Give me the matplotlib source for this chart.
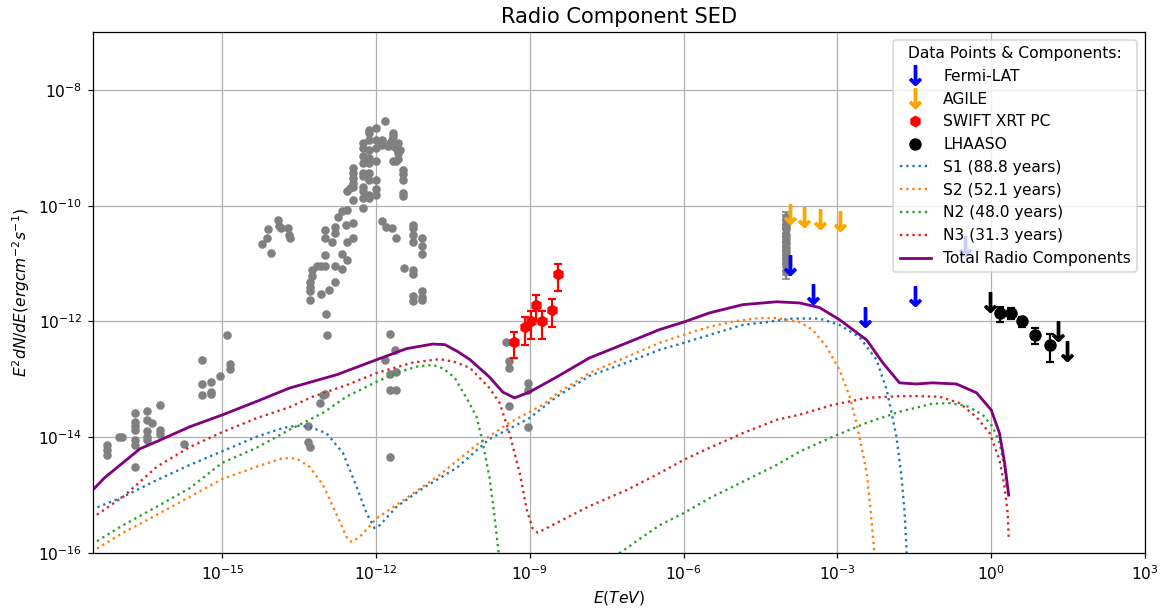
import numpy as np
import matplotlib
matplotlib.use("Agg")
import matplotlib.pyplot as plt

# -------------------------------
# Data
# -------------------------------

# model curves (log10 E [TeV], log10 E^2 dN/dE)
s1_logE = [-17.55, -16.94, -16.28, -15.64, -15.00, -14.33, -13.82, -13.55, -13.30, -12.97,
           -12.65, -12.38, -12.19, -12.03, -11.93, -11.60, -11.09, -10.43, -9.79, -9.01,
           -8.48, -7.84, -7.11, -6.47, -6.00, -5.49, -4.85, -4.38, -3.88, -3.35,
           -2.96, -2.57, -2.24, -2.04, -1.85, -1.75, -1.69, -1.65, -1.62]
s1_logF = [-15.25, -15.03, -14.74, -14.48, -14.24, -13.99, -13.84, -13.80, -13.82, -13.93,
           -14.27, -14.86, -15.31, -15.57, -15.52, -15.20, -14.88, -14.53, -14.03, -13.67,
           -13.30, -12.94, -12.71, -12.49, -12.37, -12.23, -12.06, -12.01, -11.95, -11.95,
           -12.06, -12.27, -12.66, -13.18, -13.99, -14.69, -15.31, -16.00, -16.50]

s2_logE = [-17.55, -16.94, -16.28, -15.64, -15.00, -14.33, -13.82, -13.55, -13.30, -13.04,
           -12.77, -12.58, -12.48, -12.32, -11.99, -11.41, -10.76, -10.04, -9.40, -8.75,
           -8.48, -7.84, -7.11, -6.47, -6.00, -5.49, -4.97, -4.52, -4.19, -3.74,
           -3.49, -3.21, -2.96, -2.76, -2.63, -2.53, -2.43, -2.36, -2.28, -2.25]
s2_logF = [-15.98, -15.65, -15.34, -15.03, -14.72, -14.51, -14.36, -14.37, -14.51, -14.82,
           -15.34, -15.72, -15.81, -15.72, -15.40, -15.05, -14.65, -14.13, -13.75, -13.44,
           -13.25, -12.89, -12.61, -12.37, -12.23, -12.09, -11.99, -11.94, -11.94, -12.01,
           -12.14, -12.44, -12.84, -13.30, -13.75, -14.17, -14.62, -15.20, -16.00, -16.50]

n2_logE = [-17.55, -16.94, -16.28, -15.64, -15.00, -14.33, -13.69, -13.04, -12.58, -11.99,
           -11.54, -11.21, -10.90, -10.70, -10.47, -10.22, -10.04, -9.92, -9.79, -9.69,
           -9.61, -9.55, np.nan, -7.45, -7.25, -6.80, -6.47, -6.00, -5.49, -4.85,
           -4.19, -3.74, -3.09, -2.43, -1.79, -1.15, -0.81, -0.48, -0.17, 0.03,
           0.16, 0.26, 0.30]
n2_logF = [-15.85, -15.52, -15.20, -14.88, -14.44, -14.18, -13.87, -13.58, -13.30, -13.04,
           -12.87, -12.78, -12.75, -12.81, -12.97, -13.35, -13.65, -14.10, -14.69, -15.38,
           -16.00, -16.50, np.nan, -16.40, -16.00, -15.72, -15.52, -15.31, -15.05, -14.77,
           -14.48, -14.25, -13.99, -13.75, -13.56, -13.42, -13.41, -13.46, -13.61, -13.82,
           -14.10, -14.51, -14.86]

n3_logE = [-17.55, -16.94, -16.28, -15.64, -15.00, -14.33, -13.69, -13.24, -12.58, -11.99,
           -11.29, -10.76, -10.47, -10.17, -9.79, -9.59, -9.40, -9.20, -9.06, -8.95, -8.85,
           -8.48, -7.84, -7.11, -6.47, -6.00, -5.49, -4.85, -4.19, -3.74, -3.09,
           -2.43, -1.79, -1.46, -1.01, -0.62, -0.29, -0.03, 0.16, 0.26, 0.32, 0.34]
n3_logF = [-15.40, -15.03, -14.51, -14.17, -13.91, -13.67, -13.48, -13.30, -13.10, -12.89,
           -12.71, -12.65, -12.70, -12.80, -13.15, -13.41, -13.93, -14.62, -15.26, -15.57, -15.65,
           -15.48, -15.19, -14.91, -14.62, -14.39, -14.18, -13.93, -13.70, -13.61, -13.44,
           -13.32, -13.29, -13.29, -13.30, -13.41, -13.65, -13.93, -14.39, -14.86, -15.31, -15.72]

tot_logE = [-17.55, -17.30, -16.61, -16.22, -15.64, -14.99, -14.33, -13.69, -12.77, -11.99,
            -11.41, -10.90, -10.66, -10.41, -10.17, -9.79, -9.53, -9.30, -9.01, -8.48,
            -7.84, -7.11, -6.47, -6.00, -5.49, -4.85, -4.19, -3.74, -3.35, -2.96,
            -2.43, -2.12, -1.79, -1.46, -1.15, -0.68, -0.29, 0.00, 0.16, 0.26, 0.34]
tot_logF = [-14.93, -14.70, -14.20, -14.05, -13.82, -13.61, -13.38, -13.15, -12.92, -12.66,
            -12.47, -12.39, -12.40, -12.52, -12.66, -12.96, -13.22, -13.32, -13.22, -12.96,
            -12.63, -12.37, -12.14, -12.01, -11.85, -11.71, -11.66, -11.68, -11.76, -11.97,
            -12.32, -12.71, -13.06, -13.08, -13.06, -13.08, -13.23, -13.53, -13.93, -14.44, -15.00]

# archival points (grey, log10 values)
gray_logE = [
    -17.25, -17.25, -17.25, -17.02, -16.95,
    -16.71, -16.71, -16.71, -16.71, -16.71, -16.71, -16.71,
    -16.47, -16.47, -16.47, -16.47, -16.47, -16.37, -16.21, -16.22, -16.22, -15.75,
    -15.40, -15.40, -15.39, -15.22, -15.22, -15.22, -15.05, -14.92, -14.85, -14.85,
    -14.22, -14.14, -14.12, -14.06, -13.92, -13.90, -13.85, -13.73, -13.70, -13.69,
    -13.29, -13.29, -13.29, -13.29, -13.26, -13.26, -13.16, -13.08, -13.07,
    -12.99, -12.99, -12.99, -12.99, -12.92, -12.87, -12.81, -12.80, -12.80, -12.80,
    -12.67, -12.67, -12.56, -12.56, -12.58, -12.46, -12.46, -12.75, -12.66, -12.57, -12.57, -12.52,
    -12.45, -12.45, -12.45, -12.45, -12.45, -12.45,
    -12.26, -12.26, -12.26, -12.26, -12.26, -12.26, -12.26, -12.26, -12.26, -12.26,
    -12.14, -12.14, -12.14, -12.14, -12.14, -12.14, -12.14, -12.14, -12.14, -12.14,
    -12.01, -12.01, -12.01, -12.01, -12.01, -12.01, -12.01,
    -11.88, -11.88, -11.88, -11.82, -11.77, -11.74, -11.70, -11.70,
    -11.67, -11.67, -11.67, -11.67, -11.61, -11.61, -11.61, -11.58, -11.58, -11.58, -11.54,
    -11.48, -11.48, -11.48, -11.48, -11.48, -11.80, -11.46,
    -11.28, -11.28, -11.28, -11.28, -11.28, -11.28, -11.28, -11.28,
    -11.10, -11.10, -11.10, -11.10, -11.10, -11.10,
    -12.97, -12.96, -11.74, -11.64, -11.82, -11.61, -11.74, -11.74, -11.61,
    -13.04, -12.99, -13.10, -13.33, -13.33, -13.30, -11.74,
    -9.46, -9.40, -9.40, -9.40, -9.04, -9.04, -9.04,
]
gray_logF = [
    -14.13, -14.22, -14.31, -14.00, -14.00,
    -13.58, -13.73, -13.80, -13.87, -14.05, -14.13, -14.51,
    -13.54, -13.70, -13.90, -14.00, -14.05, -13.75, -13.45, -13.87, -13.94, -14.12,
    -13.08, -13.27, -12.67, -13.05, -13.21, -13.25, -12.95, -12.24, -12.74, -12.82,
    -10.66, -10.55, -10.40, -10.82, -10.24, -10.35, -10.39, -10.38, -10.50, -10.55,
    -11.63, -11.48, -11.40, -11.31, -11.22, -11.11, -11.04, -11.04, -11.52,
    -10.42, -10.56, -10.86, -11.04, -11.46, -10.62, -11.31, -10.36, -10.47, -11.05,
    -10.83, -11.09, -10.93, -10.62, -10.33, -10.30, -10.55, -10.19, -10.10, -10.07, -9.75, -9.69,
    -9.67, -9.90, -9.35, -9.43, -9.52, -9.61,
    -10.04, -8.92, -9.00, -9.15, -9.26, -9.43, -9.49, -9.67, -9.75, -9.87,
    -8.69, -8.74, -8.86, -9.03, -9.18, -9.26, -9.43, -9.55, -9.81, -9.87,
    -8.66, -8.86, -9.00, -9.23, -9.55, -9.72, -9.81,
    -8.86, -8.95, -10.27, -8.54, -8.97, -8.92, -8.86, -10.39,
    -8.74, -8.80, -8.97, -9.23, -9.00, -9.23, -10.56, -8.92, -9.09, -9.20, -9.03,
    -9.38, -9.46, -9.55, -9.78, -9.84, -10.36, -11.08,
    -10.33, -10.39, -10.50, -10.62, -11.11, -11.18, -11.56, -11.65,
    -10.56, -10.69, -10.83, -11.48, -11.57, -11.63,
    -11.87, -12.23, -12.21, -12.49, -12.66, -12.87, -12.91, -13.18, -13.18,
    -13.27, -13.26, -13.41, -13.80, -14.08, -14.16, -14.34,
    -12.35, -12.69, -12.81, -13.46, -13.07, -13.18, -13.82,
]

# grey stack at 100 MeV with error bars
stack_E = 1.0e-4
stack_logF = [-10.20, -10.26, -10.35, -10.41, -10.50, -10.58, -10.64,
              -10.73, -10.80, -10.88, -10.97, -11.05, -11.12]
stack_relerr = [0.25, 0.25, 0.25, 0.25, 0.25, 0.25, 0.25,
                0.25, 0.25, 0.25, 0.3, 0.3, 0.3]

# Fermi-LAT upper limits
fermi_E = [1.17e-4, 3.3e-4, 3.4e-3, 3.3e-2, 0.31]
fermi_F = [9.5e-12, 3.0e-12, 1.2e-12, 2.75e-12, 2.0e-11]

# AGILE upper limits
agile_E = [1.17e-4, 2.2e-4, 4.5e-4, 1.1e-3]
agile_F = [7.2e-11, 6.5e-11, 6.0e-11, 5.4e-11]

# SWIFT XRT PC
swift_E = [4.8e-10, 7.9e-10, 1.07e-9, 1.29e-9, 1.7e-9, 2.7e-9, 3.6e-9]
swift_F = [4.5e-13, 7.9e-13, 1.0e-12, 1.95e-12, 1.0e-12, 1.6e-12, 6.5e-12]
swift_err = [2.2e-13, 4.0e-13, 5.0e-13, 9.5e-13, 5.0e-13, 8.0e-13, 3.2e-12]

# LHAASO
lhaaso_E = [1.48, 2.45, 4.0, 7.2, 13.8]
lhaaso_F = [1.38e-12, 1.41e-12, 1.0e-12, 5.9e-13, 4.0e-13]
lhaaso_err = [0.40e-12, 0.30e-12, 0.20e-12, 0.18e-12, 0.20e-12]
lhaaso_ul_E = [0.95, 20.0, 29.5]
lhaaso_ul_F = [2.2e-12, 6.8e-13, 3.1e-13]

# --------------------------------
# Plot
# --------------------------------

def lin(a):
    return 10.0 ** np.array(a, dtype=float)

DPI = 112
fig, ax = plt.subplots(figsize=(1164 / DPI, 610 / DPI), dpi=DPI)
fig.subplots_adjust(left=0.080, right=0.9837, bottom=0.0934, top=0.9475)

ax.plot(lin(gray_logE), lin(gray_logF), "o", color="gray", ms=4.5, zorder=2)
stack_F = lin(stack_logF)
ax.errorbar([stack_E] * len(stack_F), stack_F, yerr=stack_F * np.array(stack_relerr),
            fmt="o", color="gray", ms=4.5, capsize=2.5, zorder=2)

arrow = r"$\downarrow$"
ax.plot(fermi_E, fermi_F, marker=arrow, color="blue", ms=12.5, ls="none", label="Fermi-LAT", zorder=3)
ax.plot(agile_E, agile_F, marker=arrow, color="orange", ms=12.5, ls="none", label="AGILE", zorder=3)

ax.errorbar(swift_E, swift_F, yerr=swift_err, fmt="none", ecolor="red",
            elinewidth=1.4, capsize=2.8, capthick=1.4, zorder=3)
ax.plot(swift_E, swift_F, marker="h", color="red", ms=6.5, ls="none", label="SWIFT XRT PC", zorder=4)

ax.errorbar(lhaaso_E, lhaaso_F, yerr=lhaaso_err, fmt="none", ecolor="black",
            elinewidth=1.4, capsize=2.8, capthick=1.4, zorder=3)
ax.plot(lhaaso_E, lhaaso_F, marker="o", color="black", ms=7, ls="none", label="LHAASO", zorder=4)
ax.plot(lhaaso_ul_E, lhaaso_ul_F, marker=arrow, color="black", ms=12.5, ls="none", zorder=3)

ax.plot(lin(s1_logE), lin(s1_logF), ":", color="tab:blue", lw=1.5, label="S1 (88.8 years)")
ax.plot(lin(s2_logE), lin(s2_logF), ":", color="tab:orange", lw=1.5, label="S2 (52.1 years)")
ax.plot(lin(n2_logE), lin(n2_logF), ":", color="tab:green", lw=1.5, label="N2 (48.0 years)")
ax.plot(lin(n3_logE), lin(n3_logF), ":", color="tab:red", lw=1.5, label="N3 (31.3 years)")
ax.plot(lin(tot_logE), lin(tot_logF), "-", color="purple", lw=1.8, label="Total Radio Components")

ax.set_xscale("log")
ax.set_yscale("log")
ax.set_xlim(3e-18, 1e3)
ax.set_ylim(1e-16, 1e-7)
ax.set_title("Radio Component SED", fontsize=13.5)
ax.set_xlabel(r"$E(TeV)$")
ax.set_ylabel(r"$E^2dN/dE(erg cm^{-2}s^{-1})$")
ax.grid(True)
ax.legend(loc="upper right", title="Data Points & Components:")

plt.savefig("out.png", dpi=DPI)
